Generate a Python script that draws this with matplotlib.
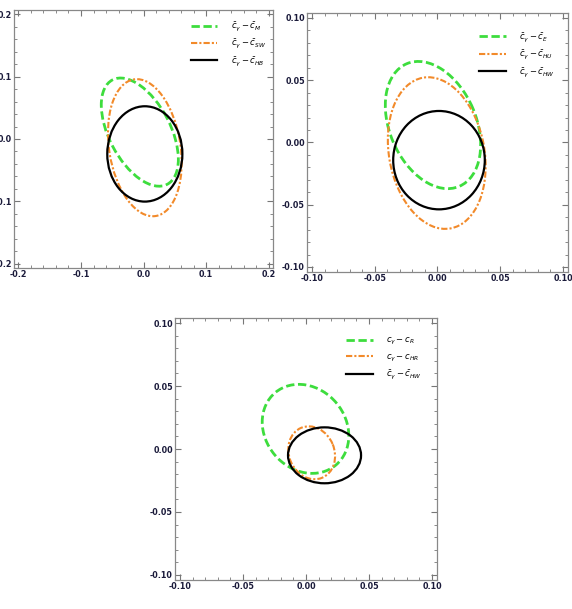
import matplotlib
matplotlib.use("Agg")
import matplotlib.pyplot as plt
from matplotlib.patches import Ellipse
from matplotlib.lines import Line2D
from matplotlib.ticker import MultipleLocator, FormatStrFormatter

# each ellipse: centre x, centre y, full width, full height, angle (deg)
P1_LABELS = [r"$\bar{c}_\gamma-\bar{c}_{M}$", r"$\bar{c}_\gamma-\bar{c}_{SW}$", r"$\bar{c}_\gamma-\bar{c}_{HB}$"]
P1_GREEN = (-0.006, 0.011, 0.189, 0.098, 117.5)
P1_ORANGE = (0.002, -0.014, 0.222, 0.114, 99.0)
P1_BLACK = (0.002, -0.024, 0.120, 0.153, 0.0)

P2_LABELS = [r"$\bar{c}_\gamma-\bar{c}_{E}$", r"$\bar{c}_\gamma-\bar{c}_{HU}$", r"$\bar{c}_\gamma-\bar{c}_{HW}$"]
P2_GREEN = (-0.0036, 0.014, 0.107, 0.069, 112.9)
P2_ORANGE = (-0.0006, -0.0085, 0.123, 0.076, 100.3)
P2_BLACK = (0.0012, -0.0142, 0.073, 0.079, 0.0)

P3_LABELS = [r"$c_\gamma-c_{R}$", r"$c_\gamma-c_{HR}$", r"$\bar{c}_\gamma-\bar{c}_{HW}$"]
P3_GREEN = (-0.0004, 0.016, 0.075, 0.064, 129.9)
P3_ORANGE = (0.0045, -0.003, 0.043, 0.036, 112.8)
P3_BLACK = (0.0147, -0.005, 0.058, 0.0444, 0.0)

GREEN = "#3ddd3d"
ORANGE = "#f28a2a"
STYLES = [(GREEN, (0, (3, 1.3)), 2.0), (ORANGE, (0, (3, 1, 1, 1)), 1.5), ("black", "-", 1.6)]

PANELS = [
    ([0.0245, 0.560, 0.453, 0.4236], 0.207, 0.1, 0.02, "%.1f",
     [P1_GREEN, P1_ORANGE, P1_BLACK], P1_LABELS, (1.0, 0.99)),
    ([0.5367, 0.5534, 0.4563, 0.4253], 0.104, 0.05, 0.01, "%.2f",
     [P2_GREEN, P2_ORANGE, P2_BLACK], P2_LABELS, (0.98, 0.96)),
    ([0.306, 0.0476, 0.458, 0.4302], 0.104, 0.05, 0.01, "%.2f",
     [P3_GREEN, P3_ORANGE, P3_BLACK], P3_LABELS, (0.97, 0.96)),
]

fig = plt.figure(figsize=(5.72, 6.09), dpi=100)
for rect, lim, major, minor, fmt, ells, labels, anchor in PANELS:
    ax = fig.add_axes(rect)
    handles = []
    for (cx, cy, w, h, ang), (col, ls, lw) in zip(ells, STYLES):
        ax.add_patch(Ellipse((cx, cy), w, h, angle=ang, fill=False,
                             edgecolor=col, linestyle=ls, lw=lw))
        handles.append(Line2D([], [], color=col, linestyle=ls, lw=lw))
    ax.set_xlim(-lim, lim)
    ax.set_ylim(-lim, lim)
    ax.xaxis.set_major_locator(MultipleLocator(major))
    ax.yaxis.set_major_locator(MultipleLocator(major))
    ax.xaxis.set_minor_locator(MultipleLocator(minor))
    ax.yaxis.set_minor_locator(MultipleLocator(minor))
    ax.xaxis.set_major_formatter(FormatStrFormatter(fmt))
    ax.yaxis.set_major_formatter(FormatStrFormatter(fmt))
    ax.tick_params(which="both", direction="in", top=True, right=True,
                   color="#777777", labelsize=5.8, labelcolor="#1a1a3a", pad=1.5)
    ax.tick_params(which="major", length=4, width=0.8)
    ax.tick_params(which="minor", length=2, width=0.6)
    for lab in ax.get_xticklabels() + ax.get_yticklabels():
        lab.set_fontweight("bold")
    for sp in ax.spines.values():
        sp.set_color("#888888")
        sp.set_linewidth(0.9)
    ax.legend(handles, labels, loc="upper right", bbox_to_anchor=anchor,
              frameon=False, fontsize=6, handlelength=3.2, labelspacing=0.55,
              handletextpad=1.6)

fig.savefig("out.png", dpi=100)
